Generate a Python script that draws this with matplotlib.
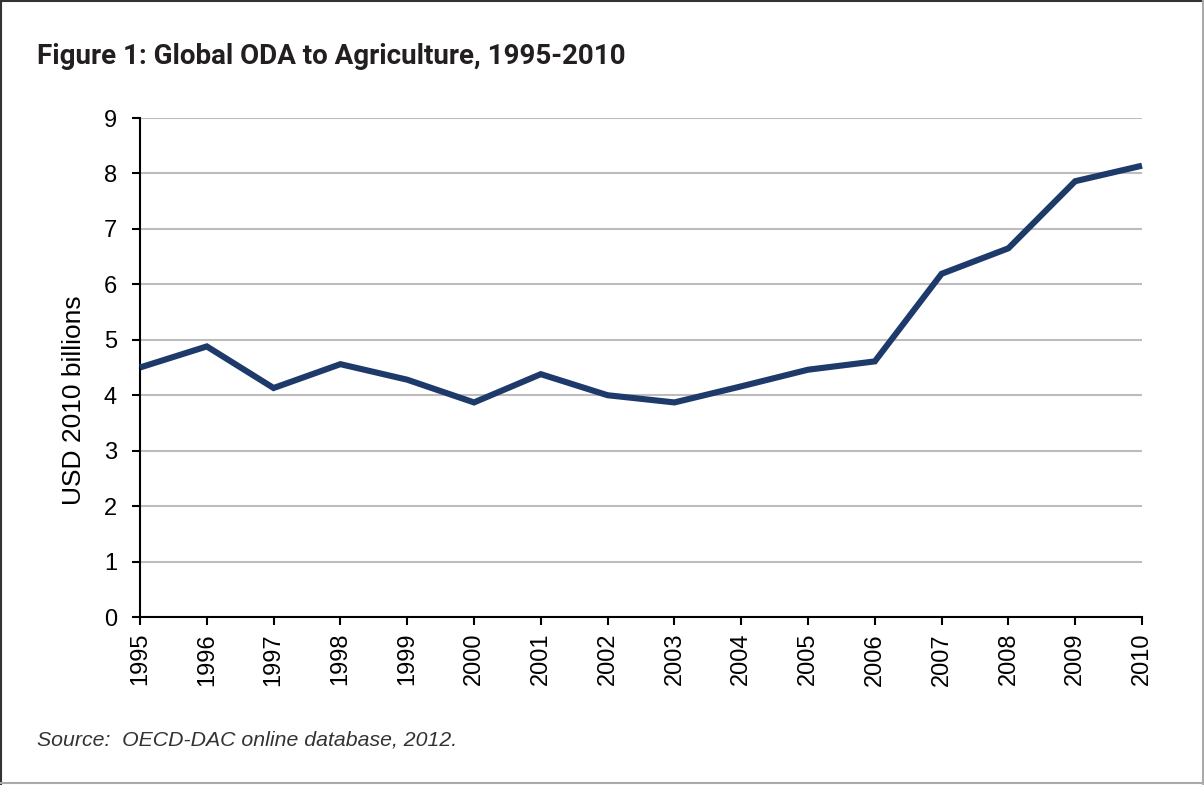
import matplotlib
matplotlib.use("Agg")
import matplotlib.pyplot as plt
from matplotlib.lines import Line2D

# Global ODA to agriculture, USD 2010 billions
years = [1995, 1996, 1997, 1998, 1999, 2000, 2001, 2002,
         2003, 2004, 2005, 2006, 2007, 2008, 2009, 2010]
oda = [4.50, 4.88, 4.13, 4.56, 4.28, 3.87, 4.38, 4.00,
       3.87, 4.16, 4.46, 4.61, 6.19, 6.65, 7.86, 8.14]
y_ticks = list(range(0, 10))

title = "Figure 1: Global ODA to Agriculture, 1995-2010"
y_label = "USD 2010 billions"
source = "Source:  OECD-DAC online database, 2012."

W, H = 1204, 785
fig = plt.figure(figsize=(W / 100, H / 100), dpi=100)
fig.patch.set_facecolor("white")

# axes box in pixel coordinates
left, right, top, bottom = 140, 1142, 118, 617
ax = fig.add_axes([left / W, 1 - bottom / H, (right - left) / W, (bottom - top) / H])

ax.plot(years, oda, color="#1e3a6b", lw=4.4, solid_capstyle="butt",
        solid_joinstyle="miter", clip_on=False, zorder=5)

ax.set_xlim(years[0], years[-1])
ax.set_ylim(0, 9)
ax.set_xticks(years)
ax.set_xticklabels([str(y) for y in years], rotation=90,
                   fontfamily="Liberation Sans", fontsize=17)
ax.set_yticks(y_ticks)
ax.set_yticklabels([str(t) for t in y_ticks], fontfamily="Liberation Sans", fontsize=17)

ax.yaxis.grid(True, color="#bdbdbd", lw=1.5)
ax.set_axisbelow(True)
for s in ("top", "right"):
    ax.spines[s].set_visible(False)
for s in ("left", "bottom"):
    ax.spines[s].set_color("black")
    ax.spines[s].set_linewidth(1.5)
ax.tick_params(axis="both", direction="out", length=5.5, width=1.5, color="black",
               labelcolor="black")
ax.tick_params(axis="y", pad=11)
ax.tick_params(axis="x", pad=6)

fig.text(74 / W, 1 - 400 / H, y_label, rotation=90, fontfamily="Liberation Sans",
         fontsize=19, color="black", va="center", ha="center")

fig.text(37 / W, 1 - 57 / H, title, fontfamily="Roboto", fontweight="bold",
         fontsize=20, color="#231f20", va="center", ha="left")
fig.text(37 / W, 1 - 740 / H, source, fontfamily="Liberation Sans", fontstyle="italic",
         fontsize=15.3, color="#333333", va="center", ha="left")

# frame around the figure
fig.add_artist(Line2D([1 / W, 1 / W], [0, 1], color="#333333", lw=1.5, transform=fig.transFigure))
fig.add_artist(Line2D([0, 1], [1 - 1 / H, 1 - 1 / H], color="#333333", lw=1.5, transform=fig.transFigure))
fig.add_artist(Line2D([1 - 1.5 / W, 1 - 1.5 / W], [0, 1], color="#aaaaaa", lw=1.5, transform=fig.transFigure))
fig.add_artist(Line2D([0, 1], [2 / H, 2 / H], color="#aaaaaa", lw=1.5, transform=fig.transFigure))

fig.savefig("out.png", dpi=100)
